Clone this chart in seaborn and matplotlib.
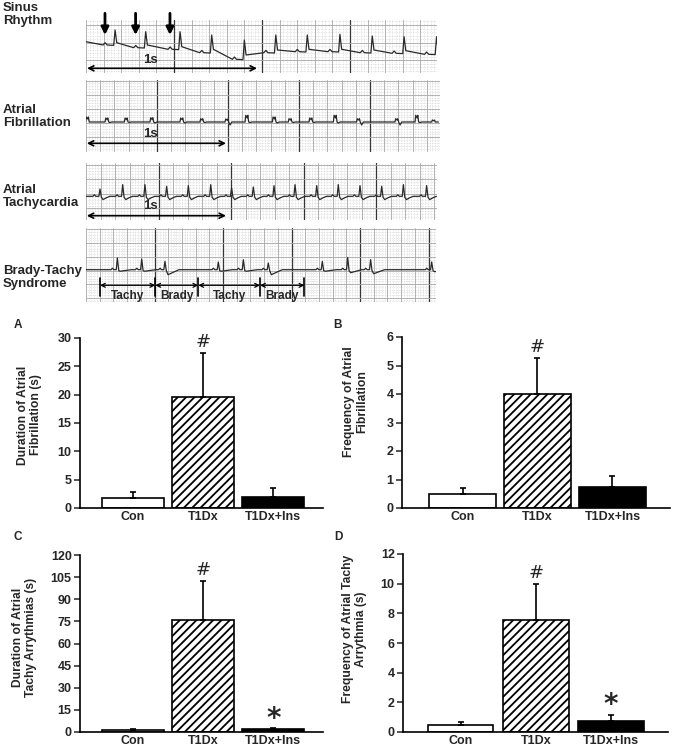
import numpy as np
import pandas as pd
import matplotlib
matplotlib.use('Agg')
import matplotlib.pyplot as plt
import seaborn as sns

sns.set_theme(style='white')
plt.rcParams['font.family'] = ['Liberation Sans', 'DejaVu Sans']
plt.rcParams['hatch.linewidth'] = 1.3

W, H = 673, 753

# ---- bar chart data ----
groups = ['Con', 'T1Dx', 'T1Dx+Ins']
af_duration = [1.8, 19.6, 2.0]
af_duration_err = [1.1, 7.8, 1.6]
af_frequency = [0.49, 4.0, 0.75]
af_frequency_err = [0.2, 1.27, 0.38]
at_duration = [1.4, 76.0, 1.7]
at_duration_err = [0.5, 26.6, 0.7]
at_frequency = [0.47, 7.55, 0.76]
at_frequency_err = [0.18, 2.43, 0.39]
marks_af = ['', '#', '']
marks_at = ['', '#', '*']

# ---- ECG traces (R-peak times in s, levels in px below strip top) ----
sinus_r_t = [0.17, 0.349, 0.55, 0.735, 0.926, 1.11, 1.294, 1.485, 1.674, 1.86, 2.05]
sinus_r_top = [10, 11.7, 11.7, 15, 20, 15, 15, 14.3, 16, 16.7, 16.7]
sinus_base = [25, 27.7, 29.3, 32.7, 39.3, 32.7, 31.7, 31.7, 32.7, 33.3, 34.3]
sinus_after = [22.7, 25, 26.7, 29.3, 35, 30, 29.3, 29.3, 30, 30.7, 31]

af_t = [0.009, 0.148, 0.286, 0.469, 0.683, 0.826, 1.005, 1.148, 1.343, 1.457,
        1.605, 1.779, 1.945, 2.219, 2.362, 2.481]
af_h = [5, 4, 4, 4.3, 4, 3.3, 3, 6.7, 5, 3.3, 4, 6.7, 3.3, 3.3, 6.7, 2]
af_dip = [0, 0.5, 0.5, 1, 1, 0.5, 3, 0.5, 1, 0.5, 0.5, 1, 3, 3, 0.5, 0]

tachy_t = [0.1, 0.262, 0.421, 0.576, 0.731, 0.891, 1.04, 1.195, 1.343, 1.493,
           1.648, 1.802, 1.957, 2.112, 2.267, 2.433]
tachy_h = [7.3, 11.7, 11.7, 10, 10.7, 11.7, 8.3, 9.3, 10.7, 11.7, 10.7, 11.7, 10.7, 10, 11.7, 10.7]

bt_t = [0.224, 0.398, 0.564, 0.945, 1.124, 1.302, 1.688, 1.869, 2.033, 2.469]
bt_h = [11.7, 10.7, 8.3, 7.7, 10, 6.7, 8.3, 12.3, 10, 7.7]
bt_dip = [1.5, 1.5, 5, 1.5, 1.5, 5, 1.5, 3, 4, 2]
bt_marks = [0.1, 0.495, 0.802, 1.243, 1.56]
bt_labels = ['Tachy', 'Brady', 'Tachy', 'Brady']

fig = plt.figure(figsize=(W / 100, H / 100), dpi=100)


def px_axes(x0, y0, x1, y1):
    return fig.add_axes([x0 / W, 1 - y1 / H, (x1 - x0) / W, (y1 - y0) / H])


def ecg_strip(box, pxps, sq, hoff):
    x0, y0, x1, y1 = box
    ax = px_axes(*box)
    wpx, hpx = x1 - x0, y1 - y0
    ax.set_xlim(0, wpx / pxps)
    ax.set_ylim(hpx, 0)
    ax.axis('off')
    for xm in np.arange(0, wpx, sq / 5):
        ax.axvline(xm / pxps, color='#cfcfcf', lw=0.5, ls=(0, (1, 1.5)), zorder=0)
    for ym in np.arange(hoff % (sq / 5), hpx, sq / 5):
        ax.axhline(ym, color='#cfcfcf', lw=0.5, ls=(0, (1, 1.5)), zorder=0)
    for k, xm in enumerate(np.arange(0, wpx, sq)):
        dark = k % 5 == 0 and k > 0
        ax.axvline(xm / pxps, color='#353535' if dark else '#a8a8a8',
                   lw=0.9 if dark else 0.6, zorder=1)
    for ym in np.arange(hoff, hpx, sq):
        ax.axhline(ym, color='#a8a8a8', lw=0.6, zorder=1)
    return ax


def trace(ax, pts):
    t = [p[0] for p in pts]
    v = [p[1] for p in pts]
    sns.lineplot(x=t, y=v, ax=ax, sort=False, estimator=None, color='#2a2a2a', lw=0.9, zorder=3)


def one_second(ax, y, ty, tx):
    ax.annotate('', xy=(1.0, y), xytext=(0.006, y), annotation_clip=False,
                arrowprops=dict(arrowstyle='<->', lw=1.2, color='black', shrinkA=0, shrinkB=0,
                                mutation_scale=9))
    ax.text(tx, ty, '1s', fontsize=9.5, fontweight='bold', ha='center', va='center', zorder=4)


# Sinus rhythm
ax1 = ecg_strip((86, 20, 437, 73), 171, 17.6, 5)
pts = [(0, 21.7)]
for t, top, b, a in zip(sinus_r_t, sinus_r_top, sinus_base, sinus_after):
    pts += [(t - 0.07, b), (t - 0.058, b - 2.3), (t - 0.046, b), (t - 0.008, b + 0.3),
            (t, top), (t + 0.01, a)]
trace(ax1, pts)
for t in sinus_r_t[:3]:
    ax1.annotate('', xy=(t - 0.059, 15), xytext=(t - 0.059, -6.7), annotation_clip=False,
                 arrowprops=dict(arrowstyle='-|>', lw=2, color='black', mutation_scale=11,
                                 shrinkA=0, shrinkB=0))
one_second(ax1, 48.3, 40, 0.374)

# Atrial fibrillation
ax2 = ecg_strip((86, 80, 440, 152), 140, 14.2, 0.5)
base = 42
pts = []
for t, h, d in zip(af_t, af_h, af_dip):
    pts += [(t - 0.012, base), (t - 0.007, base - h), (t + 0.003, base - h * 0.6),
            (t + 0.008, base - h), (t + 0.014, base), (t + 0.024, base + d), (t + 0.036, base)]
trace(ax2, pts)
one_second(ax2, 63.3, 54.3, 0.457)

# Atrial tachycardia
ax3 = ecg_strip((86, 163, 437, 220), 140, 14.5, 2)
base = 33.3
pts = [(0, base)]
for t, h in zip(tachy_t, tachy_h):
    pts += [(t - 0.05, base), (t - 0.04, base - 1.5), (t - 0.03, base), (t - 0.008, base),
            (t, base - h), (t + 0.01, base + 1), (t + 0.022, base + 3.3), (t + 0.045, base + 1.5),
            (t + 0.07, base)]
trace(ax3, pts)
one_second(ax3, 52.7, 43.3, 0.457)

# Brady-tachy syndrome
ax4 = ecg_strip((86, 228, 436, 302), 140, 13.7, 1.4)
base = 41.7
pts = [(0, base)]
for t, h, d in zip(bt_t, bt_h, bt_dip):
    pts += [(t - 0.045, base), (t - 0.035, base - 1.5), (t - 0.025, base), (t - 0.008, base),
            (t, base - h), (t + 0.01, base + 1), (t + 0.022, base + d), (t + 0.06, base + d * 0.5),
            (t + 0.1, base)]
trace(ax4, pts)
for m in bt_marks:
    ax4.plot([m, m], [50, 68.3], color='black', lw=1.2, zorder=4)
for a, b, lab in zip(bt_marks[:-1], bt_marks[1:], bt_labels):
    ax4.annotate('', xy=(b, 57.3), xytext=(a, 57.3),
                 arrowprops=dict(arrowstyle='<->', lw=0.9, color='black', shrinkA=0, shrinkB=0,
                                 mutation_scale=7))
    ax4.text((a + b) / 2, 67.5, lab, fontsize=8.5, fontweight='bold', ha='center', va='center',
             zorder=4, clip_on=False)

for ytop, txt in [(2, 'Sinus\nRhythm'), (104, 'Atrial\nFibrillation'),
                  (184, 'Atrial\nTachycardia'), (265, 'Brady-Tachy\nSyndrome')]:
    fig.text(3 / W, 1 - ytop / H, txt, fontsize=9.5, fontweight='bold', va='top', ha='left',
             linespacing=1.1)


# ---- bar panels ----
def bar_panel(box, values, errs, marks, ymax, step, ylabel, xlim, width, lab_xy, letter):
    ax = px_axes(*box)
    df = pd.DataFrame({'group': groups, 'value': values})
    sns.barplot(data=df, x='group', y='value', ax=ax, width=width, color='white',
                edgecolor='black', linewidth=1.2, errorbar=None, saturation=1)
    for p, fc, hatch in zip(ax.patches, ['white', 'white', 'black'], ['', '////', '']):
        p.set_facecolor(fc)
        p.set_hatch(hatch)
        p.set_edgecolor('black')
    ax.errorbar(range(3), values, yerr=[np.zeros(3), errs], fmt='none', ecolor='black',
                elinewidth=1.2, capsize=2.5, capthick=1.2, zorder=5)
    for i, m in enumerate(marks):
        if m == '#':
            ax.annotate('#', xy=(i, values[i] + errs[i]), xytext=(0, 8), textcoords='offset points',
                        ha='center', va='center', fontsize=13, family='DejaVu Sans')
        elif m == '*':
            ax.annotate('*', xy=(i, values[i] + errs[i]), xytext=(0, 7), textcoords='offset points',
                        ha='center', va='center', fontsize=20, fontweight='bold',
                        family='DejaVu Sans')
    ax.set_xlim(*xlim)
    ax.set_ylim(0, ymax)
    ax.set_yticks(np.arange(0, ymax + step / 2, step))
    ax.set_xlabel('')
    ax.set_ylabel(ylabel, fontsize=8.7, fontweight='bold', linespacing=1.2)
    ax.yaxis.set_label_coords(*lab_xy)
    for s in ['top', 'right']:
        ax.spines[s].set_visible(False)
    for s in ['left', 'bottom']:
        ax.spines[s].set_linewidth(1.2)
        ax.spines[s].set_color('black')
    ax.tick_params(axis='y', direction='out', length=4, width=1.1, labelsize=9, pad=2, left=True)
    ax.tick_params(axis='x', length=0, labelsize=9, pad=2.5)
    for t in ax.get_xticklabels() + ax.get_yticklabels():
        t.set_fontweight('bold')
    fig.text(letter[0] / W, 1 - letter[1] / H, letter[2],
             fontsize=8.5, fontweight='bold', ha='center', va='center')
    return ax


bar_panel((80, 338, 323, 508), af_duration, af_duration_err, marks_af, 30, 5,
          'Duration of Atrial\nFibrillation (s)', (-0.757, 2.71), 0.886, (-0.155, 0.547),
          (18, 325, 'A'))
bar_panel((402, 337, 670, 508), af_frequency, af_frequency_err, marks_af, 6, 1,
          'Frequency of Atrial\nFibrillation', (-0.807, 2.767), 0.893, (-0.125, 0.62),
          (338, 325, 'B'))
bar_panel((80, 555, 323, 732), at_duration, at_duration_err, marks_at, 120, 15,
          'Duration of Atrial\nTachy Arrythmias (s)', (-0.757, 2.71), 0.886, (-0.175, 0.537),
          (18, 537, 'C'))
bar_panel((403, 554, 668, 732), at_frequency, at_frequency_err, marks_at, 12, 2,
          'Frequency of Atrial Tachy\nArrythmia (s)', (-0.773, 2.76), 0.867, (-0.134, 0.58),
          (338, 537, 'D'))

fig.savefig('out.png', dpi=100)
